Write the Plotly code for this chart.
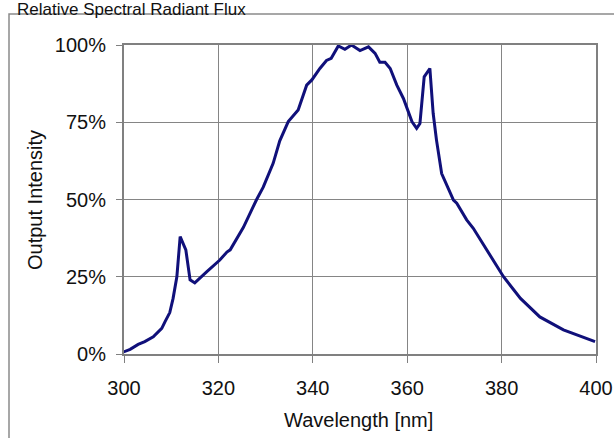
import plotly.graph_objects as go

wavelength_nm = [299.6, 301.3, 303.0, 304.4, 306.2, 308.0, 308.7, 309.7, 310.4, 311.2,
                 311.9, 313.1, 314.0, 315.0, 317.5, 320.3, 321.8, 322.5, 325.3, 327.0,
                 328.1, 329.5, 331.6, 333.0, 334.8, 336.9, 338.7, 339.8, 341.5, 342.9,
                 343.9, 345.4, 346.8, 348.2, 349.6, 350.0, 351.8, 353.2, 354.2, 355.3,
                 356.4, 357.8, 359.2, 360.2, 361.0, 362.0, 362.7, 363.6, 364.8, 365.5,
                 366.2, 367.3, 368.7, 369.8, 370.5, 372.6, 374.0, 377.5, 380.4, 384.0,
                 388.1, 393.1, 397.3, 399.8]
intensity_pct = [0.5, 1.5, 3.1, 4.0, 5.6, 8.3, 10.5, 13.4, 18.0, 25.0,
                 38.0, 33.7, 24.0, 23.0, 26.6, 30.4, 33.0, 33.7, 41.0, 46.6,
                 50.0, 54.0, 61.7, 69.0, 75.2, 79.0, 87.0, 88.7, 92.4, 95.0,
                 95.7, 99.7, 98.6, 100.0, 98.4, 98.2, 99.4, 97.3, 94.4, 94.4,
                 92.4, 87.0, 82.7, 78.4, 75.2, 73.0, 74.6, 89.7, 92.4, 77.9,
                 69.3, 58.4, 53.6, 49.8, 48.8, 43.4, 40.7, 32.0, 25.0, 18.0,
                 12.0, 7.8, 5.3, 4.0]
x_ticks = [300, 320, 340, 360, 380, 400]
y_ticks = [0, 25, 50, 75, 100]
y_tick_labels = ["0%", "25%", "50%", "75%", "100%"]

W, H = 614, 438
L, R, T, B = 124, 596, 45, 354  # plot area pixels
FONT = "Arial, Liberation Sans, sans-serif"


def px(xp):
    return (xp - L) / (R - L)


def py(yp):
    return (B - yp) / (B - T)


fig = go.Figure()
fig.add_trace(go.Scatter(
    x=wavelength_nm, y=intensity_pct, mode="lines",
    line=dict(color="#10107a", width=3), showlegend=False,
))

fig.update_layout(
    width=W, height=H,
    margin=dict(l=L, r=W - R, t=T, b=H - B),
    paper_bgcolor="white", plot_bgcolor="white",
    font=dict(family=FONT, size=20, color="#111111"),
    xaxis=dict(range=[300, 400], tickvals=x_ticks, ticktext=[str(v) for v in x_ticks],
               showgrid=True, gridcolor="#858585", gridwidth=1,
               showline=True, linecolor="#808080", linewidth=2, mirror=True,
               ticks="outside", ticklen=7, tickcolor="#808080", tickwidth=1,
               ticklabelstandoff=8, automargin=False,
               zeroline=False, tickfont=dict(size=20)),
    yaxis=dict(range=[0, 100], tickvals=y_ticks, ticktext=y_tick_labels,
               showgrid=True, gridcolor="#858585", gridwidth=1,
               showline=True, linecolor="#808080", linewidth=2, mirror=True,
               ticks="outside", ticklen=6, tickcolor="#808080", tickwidth=1,
               ticklabelstandoff=6, automargin=False,
               zeroline=False, tickfont=dict(size=20)),
    shapes=[dict(type="rect", xref="paper", yref="paper",
                 x0=px(9), x1=px(620), y0=py(445), y1=py(14),
                 line=dict(color="#8a8a8a", width=1.5), fillcolor="rgba(0,0,0,0)",
                 layer="below")],
    annotations=[
        dict(text="Relative Spectral Radiant Flux", xref="paper", yref="paper",
             x=px(15), y=py(9), xanchor="left", yanchor="middle", showarrow=False,
             font=dict(size=17, family=FONT, color="#111111")),
        dict(text="Wavelength [nm]", xref="paper", yref="paper",
             x=px(358), y=py(420), xanchor="center", yanchor="middle", showarrow=False,
             font=dict(size=20, family=FONT, color="#111111")),
        dict(text="Output Intensity", xref="paper", yref="paper",
             x=px(35), y=py(200), xanchor="center", yanchor="middle", showarrow=False,
             textangle=-90, font=dict(size=20, family=FONT, color="#111111")),
    ],
)

fig.write_html("out.html", config={"displayModeBar": False},
               post_script="document.body.style.margin='0';document.body.style.overflow='hidden';")
